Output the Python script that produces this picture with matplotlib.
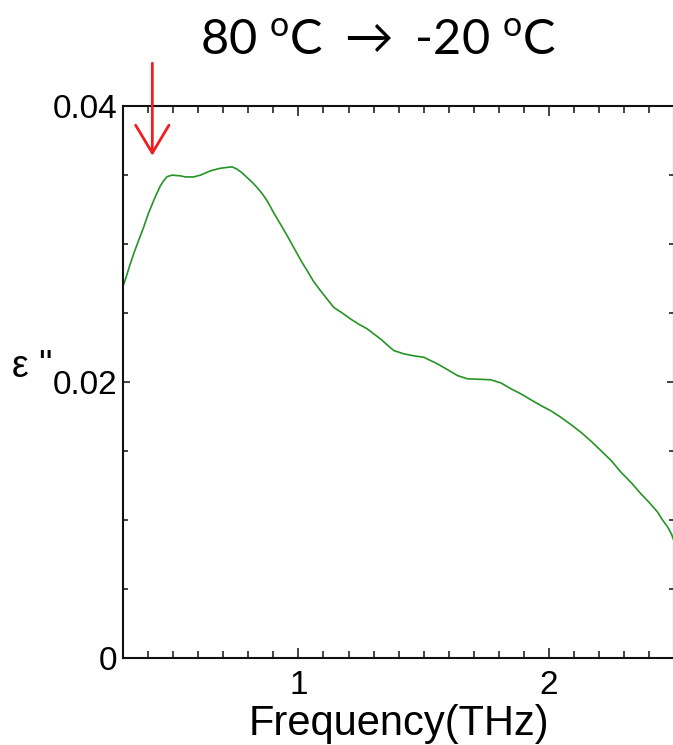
import matplotlib
matplotlib.use("Agg")
import matplotlib.pyplot as plt
from matplotlib.ticker import MultipleLocator, FixedLocator

# loss spectrum
freq_thz = [0.300, 0.308, 0.325, 0.341, 0.360, 0.381, 0.400, 0.421, 0.435, 0.448,
            0.462, 0.475, 0.495, 0.528, 0.548, 0.581, 0.608, 0.648, 0.688, 0.715,
            0.735, 0.755, 0.775, 0.795, 0.815, 0.835, 0.855, 0.875, 0.900, 0.928,
            0.955, 0.981, 1.010, 1.035, 1.060, 1.088, 1.115, 1.141, 1.175, 1.208,
            1.240, 1.275, 1.300, 1.328, 1.360, 1.381, 1.421, 1.460, 1.501, 1.555,
            1.595, 1.635, 1.675, 1.720, 1.768, 1.808, 1.850, 1.888, 1.930, 1.968,
            2.010, 2.048, 2.090, 2.128, 2.170, 2.208, 2.250, 2.288, 2.330, 2.368,
            2.400, 2.435, 2.455, 2.475, 2.490, 2.500]
eps2 = [0.02700, 0.02741, 0.02840, 0.02927, 0.03020, 0.03120, 0.03220, 0.03313, 0.03370, 0.03421,
        0.03460, 0.03488, 0.03499, 0.03494, 0.03486, 0.03486, 0.03499, 0.03530, 0.03549, 0.03555,
        0.03559, 0.03542, 0.03515, 0.03481, 0.03448, 0.03409, 0.03365, 0.03313, 0.03230, 0.03144,
        0.03060, 0.02975, 0.02880, 0.02806, 0.02730, 0.02662, 0.02600, 0.02541, 0.02500, 0.02457,
        0.02420, 0.02385, 0.02350, 0.02312, 0.02260, 0.02228, 0.02204, 0.02190, 0.02179, 0.02132,
        0.02090, 0.02047, 0.02023, 0.02020, 0.02016, 0.01994, 0.01950, 0.01915, 0.01870, 0.01830,
        0.01790, 0.01745, 0.01690, 0.01637, 0.01570, 0.01504, 0.01430, 0.01348, 0.01270, 0.01191,
        0.01130, 0.01058, 0.01000, 0.00950, 0.00900, 0.00853]

y_ticks = [0, 0.02, 0.04]
y_tick_labels = ["0", "0.02", "0.04"]
x_ticks = [1, 2]
x_tick_labels = ["1", "2"]

arrow_x = 0.416
arrow_tip = 0.0364
arrow_tail = 0.0431

plt.rcParams["font.family"] = ["Liberation Sans", "DejaVu Sans"]
plt.rcParams["mathtext.fontset"] = "custom"
plt.rcParams["mathtext.rm"] = "Lato"
plt.rcParams["mathtext.fallback"] = "stixsans"

fig = plt.figure(figsize=(6.73, 7.45), dpi=100)
ax = fig.add_axes([0.1832, 0.1168, 0.8180, 0.7409])

ax.plot(freq_thz, eps2, color="#259425", lw=1.2, solid_joinstyle="round")

ax.set_xlim(0.3, 2.5)
ax.set_ylim(0, 0.04)
ax.xaxis.set_major_locator(FixedLocator(x_ticks))
ax.set_xticklabels(x_tick_labels)
ax.xaxis.set_minor_locator(MultipleLocator(0.1))
ax.yaxis.set_major_locator(FixedLocator(y_ticks))
ax.set_yticklabels(y_tick_labels)
ax.yaxis.set_minor_locator(MultipleLocator(0.005))

ax.tick_params(axis="both", which="both", direction="in", top=True, right=True,
               width=1.1, color="#111111")
ax.tick_params(axis="x", which="major", length=7, pad=9, labelsize=24)
ax.tick_params(axis="x", which="minor", length=5)
ax.tick_params(axis="y", which="major", length=5, pad=4, labelsize=24)
ax.tick_params(axis="y", which="minor", length=3.5)
for s in ax.spines.values():
    s.set_linewidth(1.5)
    s.set_color("#111111")

ax.set_xlabel("Frequency(THz)", fontsize=30, labelpad=2)

fig.text(12 / 673, 1 - 377 / 745, 'ε "', fontsize=27, ha="left", va="baseline")

fig.text(378 / 673, 1 - 55 / 745,
         r"80 $^{\mathrm{o}}$C $\rightarrow$ -20 $^{\mathrm{o}}$C",
         fontsize=35, family="Lato", ha="center", va="baseline")

ax.annotate("", xy=(arrow_x, arrow_tip), xytext=(arrow_x, arrow_tail),
            annotation_clip=False,
            arrowprops=dict(arrowstyle="->,head_length=1.0,head_width=0.6",
                            mutation_scale=20, color="#f01e1e", lw=2.0,
                            shrinkA=0, shrinkB=0))

fig.savefig("out.png", dpi=100)
